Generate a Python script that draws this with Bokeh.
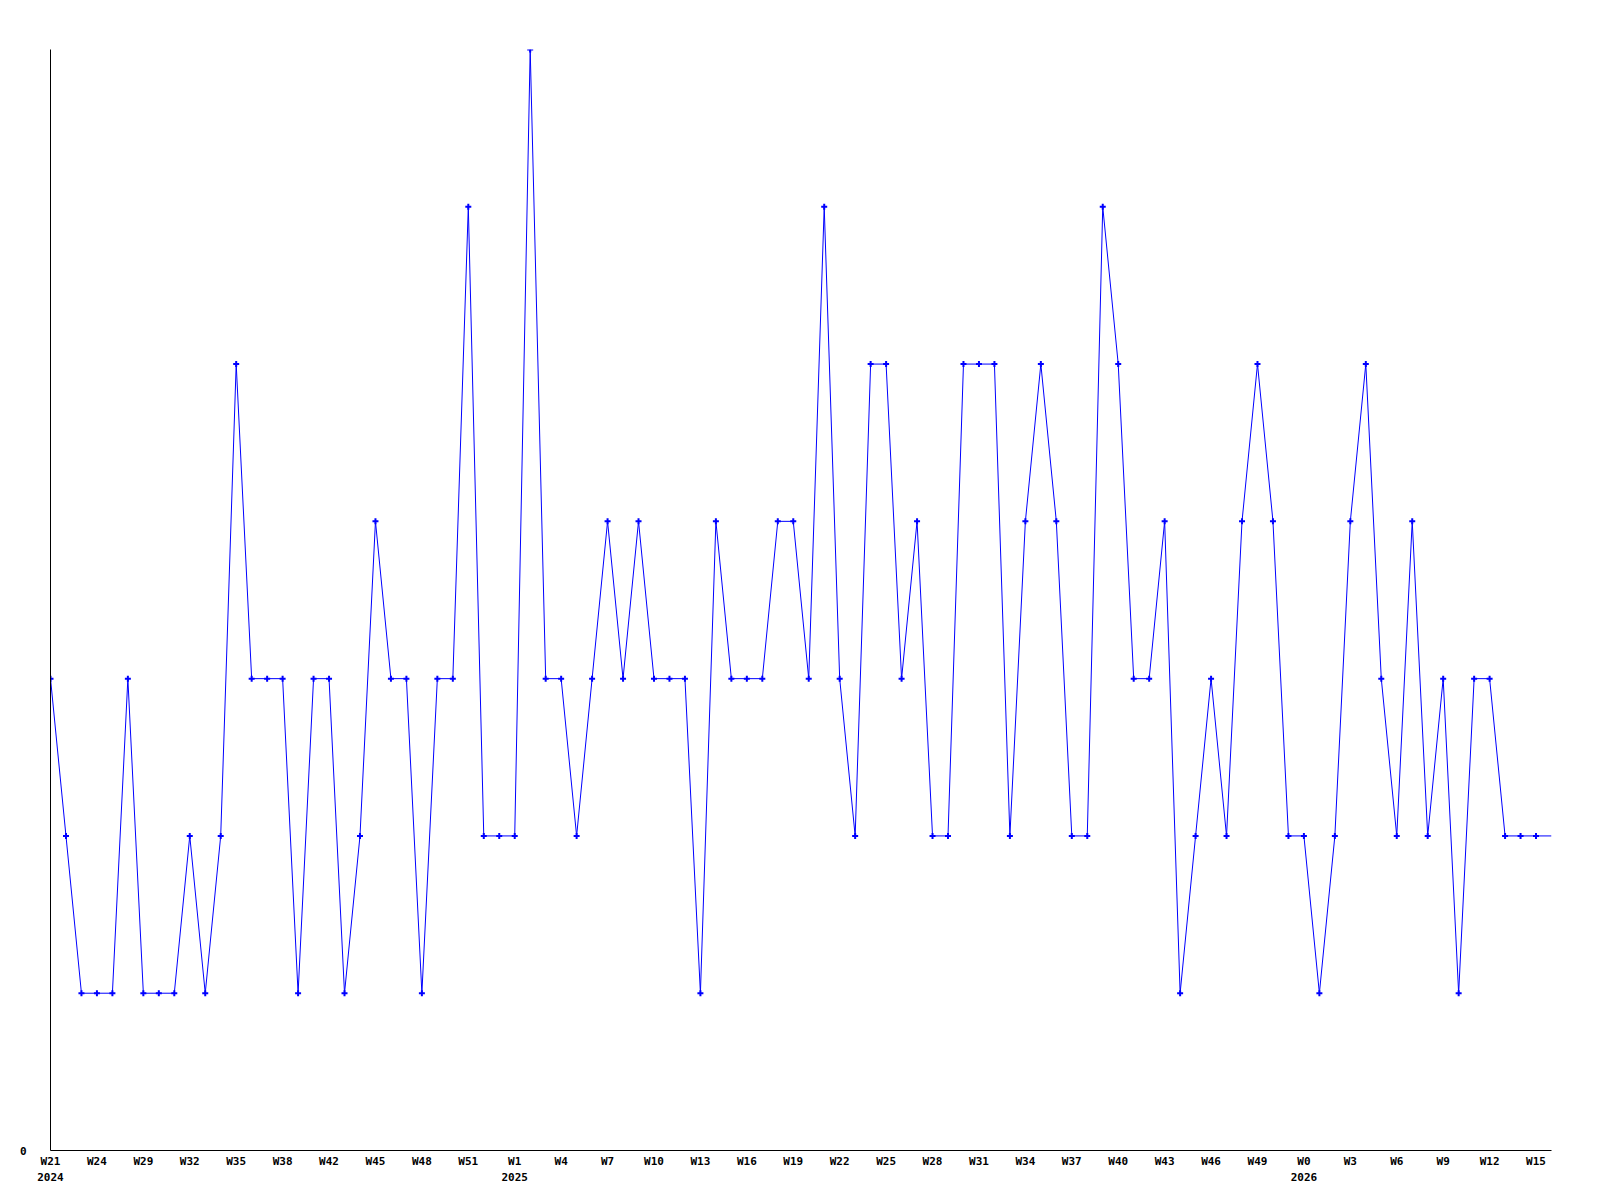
from bokeh.plotting import figure
from bokeh.models import Range1d, FixedTicker, LinearAxis
from bokeh.embed import file_html
from bokeh.resources import INLINE

# weekly counts, W21 2024 .. W16 2026
values = [3, 2, 1, 1, 1, 3, 1, 1, 1, 2,
          1, 2, 5, 3, 3, 3, 1, 3, 3, 1,
          2, 4, 3, 3, 1, 3, 3, 6, 2, 2,
          2, 7, 3, 3, 2, 3, 4, 3, 4, 3,
          3, 3, 1, 4, 3, 3, 3, 4, 4, 3,
          6, 3, 2, 5, 5, 3, 4, 2, 2, 5,
          5, 5, 2, 4, 5, 4, 2, 2, 6, 5,
          3, 3, 4, 1, 2, 3, 2, 4, 5, 4,
          2, 2, 1, 2, 4, 5, 3, 2, 4, 2,
          3, 1, 3, 3, 2, 2, 2, 2]
x_index = list(range(len(values)))

week_labels = ["W21", "W24", "W29", "W32", "W35", "W38", "W42", "W45", "W48", "W51",
               "W1", "W4", "W7", "W10", "W13", "W16", "W19", "W22", "W25", "W28",
               "W31", "W34", "W37", "W40", "W43", "W46", "W49", "W0", "W3", "W6",
               "W9", "W12", "W15"]
week_ticks = [3 * i for i in range(len(week_labels))]
year_labels = ["2024", "2025", "2026"]
year_ticks = [0, 30, 81]
y_ticks = [0]
y_labels = ["0"]

FONT = "DejaVu Sans Mono"

p = figure(width=1584, height=1184, output_backend="svg", toolbar_location=None,
           x_range=Range1d(0, len(values) - 1), y_range=Range1d(0, max(values)),
           x_axis_location=None, y_axis_location=None)
p.min_border_left = 50
p.min_border_right = 33
p.min_border_top = 49
p.min_border_bottom = 34
p.outline_line_color = None
p.xgrid.visible = False
p.ygrid.visible = False
p.background_fill_color = "white"
p.border_fill_color = "white"

p.line(x_index, values, line_color="#0000ff", line_width=1)
p.scatter(x_index[:-1], values[:-1], marker="cross", size=6, line_width=2,
          line_color="#0000ff")


def style(ax, standoff):
    ax.major_tick_out = 0
    ax.major_tick_in = 0
    ax.minor_tick_out = 0
    ax.minor_tick_in = 0
    ax.major_label_standoff = standoff
    ax.major_label_text_font = FONT
    ax.major_label_text_font_style = "bold"
    ax.major_label_text_font_size = "11px"
    ax.major_label_text_color = "black"


xa = LinearAxis(ticker=FixedTicker(ticks=week_ticks),
                major_label_overrides={t: l for t, l in zip(week_ticks, week_labels)})
style(xa, 4)
xa.axis_line_color = "black"
p.add_layout(xa, "below")

xa2 = LinearAxis(ticker=FixedTicker(ticks=year_ticks),
                 major_label_overrides={t: l for t, l in zip(year_ticks, year_labels)})
style(xa2, 2)
xa2.axis_line_color = None
p.add_layout(xa2, "below")

ya = LinearAxis(ticker=FixedTicker(ticks=y_ticks),
                major_label_overrides={t: l for t, l in zip(y_ticks, y_labels)})
style(ya, 24)
ya.axis_line_color = "black"
p.add_layout(ya, "left")

open("out.html", "w").write(file_html(p, INLINE))
